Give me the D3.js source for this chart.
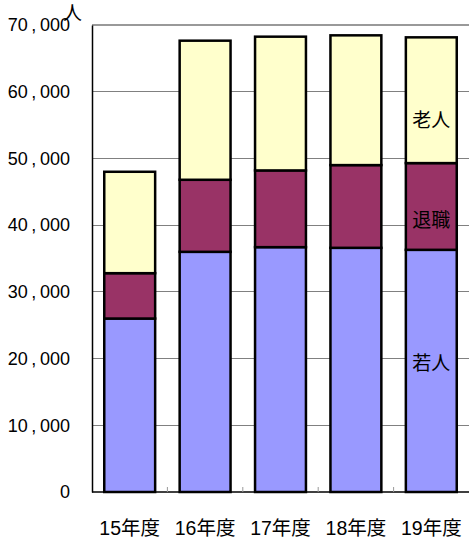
<!DOCTYPE html>
<html>
<head>
<meta charset="utf-8">
<script src="https://cdn.jsdelivr.net/npm/d3@7"></script>
<style>
  html, body { margin: 0; padding: 0; background: #fff; }
  svg { display: block; }
  text { font-family: "Liberation Sans", "Noto Sans CJK JP", sans-serif; fill: #000; }
</style>
</head>
<body>
<script>
// Fiscal years and member counts per group (persons)
const years = ["15年度", "16年度", "17年度", "18年度", "19年度"];
const young = [26000, 36000, 36700, 36600, 36300];   // 若人
const retired = [6800, 10800, 11500, 12400, 13000];  // 退職
const elderly = [15200, 20850, 20050, 19450, 18850]; // 老人
const seriesNames = ["若人", "退職", "老人"];
const seriesColors = ["#9999FF", "#993366", "#FFFFCC"];
const yTicks = [0, 10000, 20000, 30000, 40000, 50000, 60000, 70000];
const unitLabel = "人";

const W = 469, H = 539;
const margin = { left: 92, right: 0, top: 25, bottom: 47 };
const plotW = W - margin.left - margin.right;
const plotH = H - margin.top - margin.bottom;

const svg = d3.select("body").append("svg").attr("width", W).attr("height", H);
const g = svg.append("g").attr("transform", `translate(${margin.left},${margin.top})`);

const x = d3.scaleBand().domain(years).range([0, plotW]).paddingInner(0.325).paddingOuter(0.1625);
const y = d3.scaleLinear().domain([0, 70000]).range([plotH, 0]);

// Horizontal gridlines
g.append("g").selectAll("line").data(yTicks.filter(d => d > 0)).join("line")
  .attr("x1", 0).attr("x2", plotW)
  .attr("y1", d => y(d)).attr("y2", d => y(d))
  .attr("stroke", d => d === 70000 ? "#999" : "#808080")
  .attr("stroke-width", d => d === 70000 ? 2 : 1)
  .attr("shape-rendering", "crispEdges");

// Stacked bars
const table = years.map((yr, i) => ({ year: yr, 若人: young[i], 退職: retired[i], 老人: elderly[i] }));
const stack = d3.stack().keys(seriesNames)(table);

g.append("g").selectAll("g").data(stack).join("g")
  .attr("fill", (d, i) => seriesColors[i])
  .selectAll("rect").data(d => d).join("rect")
  .attr("x", d => x(d.data.year))
  .attr("width", x.bandwidth())
  .attr("y", d => y(d[1]))
  .attr("height", d => y(d[0]) - y(d[1]))
  .attr("stroke", "#000")
  .attr("stroke-width", 2.5);

// Y axis
const yAxis = d3.axisLeft(y).tickValues(yTicks).tickSize(0).tickPadding(22)
  .tickFormat(d => d3.format(",")(d).replace(",", "\u2009,\u2009"));
const ya = g.append("g").call(yAxis);
ya.select(".domain").attr("stroke", "#000").attr("stroke-width", 1.5);
ya.selectAll("text").style("font-size", "18px");

// X axis with small ticks between categories
const xa = g.append("g").attr("transform", `translate(0,${plotH})`);
xa.append("line").attr("x1", 0).attr("x2", plotW).attr("y1", 0).attr("y2", 0)
  .attr("stroke", "#000").attr("stroke-width", 1.5);
const step = x.step();
xa.selectAll("line.tick").data(d3.range(1, years.length)).join("line")
  .attr("class", "tick")
  .attr("x1", i => i * step).attr("x2", i => i * step)
  .attr("y1", 0).attr("y2", -5)
  .attr("stroke", "#999");
xa.selectAll("text").data(years).join("text")
  .attr("x", d => x(d) + x.bandwidth() / 2)
  .attr("y", 43)
  .attr("text-anchor", "middle")
  .style("font-size", "19.5px")
  .text(d => d);

// Unit label
svg.append("text").attr("x", 63).attr("y", 20).style("font-size", "19px").text(unitLabel);

// Series labels inside the last bar
const last = years.length - 1;
const labelPos = [0.53, 0.34, 0.34];
stack.forEach((s, i) => {
  const d = s[last];
  g.append("text")
    .attr("x", x(years[last]) + x.bandwidth() / 2)
    .attr("y", y(d[0] + (d[1] - d[0]) * labelPos[i]))
    .attr("dy", "0.35em")
    .attr("text-anchor", "middle")
    .style("font-size", "19px")
    .text(seriesNames[i]);
});
</script>
</body>
</html>
